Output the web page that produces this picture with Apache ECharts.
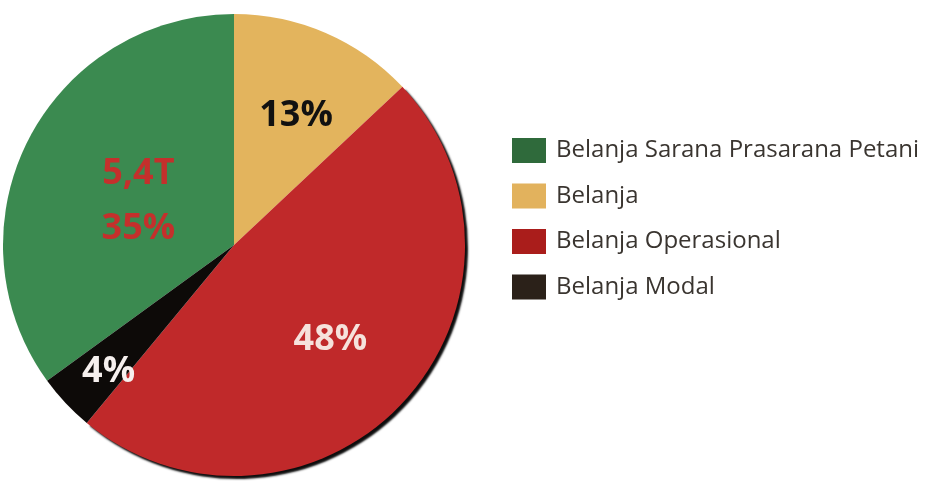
<!DOCTYPE html>
<html>
<head>
<meta charset="utf-8">
<script src="https://cdn.jsdelivr.net/npm/echarts@6/dist/echarts.min.js"></script>
<style>html,body{margin:0;padding:0;background:#fff;}#c{width:928px;height:486px;}</style>
</head>
<body>
<div id="c"></div>
<script>
const categories = ['Belanja Sarana Prasarana Petani', 'Belanja', 'Belanja Operasional', 'Belanja Modal'];
const values = [35, 13, 48, 4];
const extraLabels = ['5,4T', '', '', ''];

const sliceColors = ['#3b8a50', '#e3b45d', '#c0292a', '#0d0a08'];
const legendColors = ['#2f6a3b', '#e2b25d', '#aa1d1b', '#2b2119'];
const labelColors = ['#c4302c', '#111111', '#f6e2dc', '#f6f0ee'];
const labelOffsets = [[10, 10], [15, -20], [10, 14], [-39, 46]];

const chart = echarts.init(document.getElementById('c'), null, {renderer: 'canvas'});
const data = categories.map((name, i) => ({
  name: name,
  value: values[i],
  itemStyle: Object.assign({color: sliceColors[i]}, i === 2 ? {
    shadowColor: 'rgba(0,0,0,0.95)', shadowBlur: 2, shadowOffsetX: 3, shadowOffsetY: 3
  } : {}),
  label: {
    color: labelColors[i],
    offset: labelOffsets[i],
    lineHeight: i === 0 ? 55 : 40
  }
}));

chart.setOption({
  animation: false,
  legend: {
    orient: 'vertical',
    left: 507,
    top: 133,
    itemWidth: 34,
    itemHeight: 25,
    itemGap: 20.5,
    icon: 'rect',
    selectedMode: false,
    data: categories.map((n, i) => ({name: n, itemStyle: {color: legendColors[i]}})),
    textStyle: {
      fontFamily: 'Open Sans',
      fontSize: 24,
      color: '#3a3530',
      padding: [2, 0, 0, 5]
    }
  },
  series: [{
    type: 'pie',
    center: [234, 245],
    radius: 231,
    startAngle: 90 + values[0] / values.reduce((a, b) => a + b, 0) * 360,
    clockwise: true,
    silent: true,
    data: data,
    label: {
      show: true,
      position: 'inside',
      fontFamily: 'Open Sans',
      fontWeight: 'bold',
      fontSize: 36,
      formatter: p => {
        const ex = extraLabels[p.dataIndex];
        return (ex ? ex + '\n' : '') + p.value + '%';
      }
    },
    labelLine: {show: false}
  }]
});
</script>
</body>
</html>
